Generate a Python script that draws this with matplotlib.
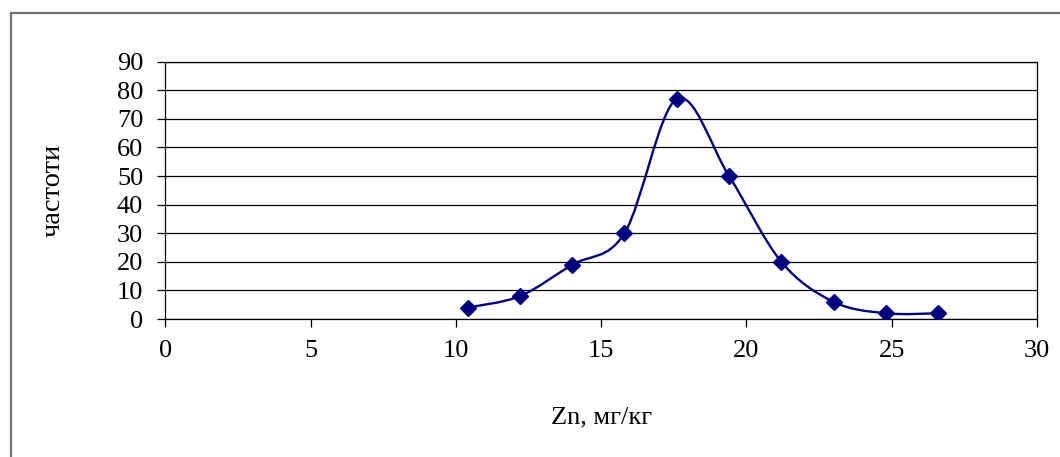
import numpy as np
import matplotlib
matplotlib.use("Agg")
import matplotlib.pyplot as plt
from matplotlib.path import Path
from matplotlib.patches import PathPatch

# data
zn = [10.4, 12.2, 14.0, 15.8, 17.6, 19.4, 21.2, 23.0, 24.8, 26.6]
freq = [4, 8, 19, 30, 77, 50, 20, 6, 2, 2]

x_ticks = [0, 5, 10, 15, 20, 25, 30]
y_ticks = [0, 10, 20, 30, 40, 50, 60, 70, 80, 90]

plt.rcParams['font.family'] = ['Liberation Serif', 'DejaVu Serif']


def smooth_path(xs, ys):
    # excel-like smoothed line: cubic bezier with catmull-rom control points
    pts = np.column_stack([xs, ys]).astype(float)
    n = len(pts)
    verts = [pts[0]]
    codes = [Path.MOVETO]
    for i in range(n - 1):
        p0 = pts[i - 1] if i > 0 else pts[i]
        p1 = pts[i]
        p2 = pts[i + 1]
        p3 = pts[i + 2] if i + 2 < n else pts[i + 1]
        c1 = p1 + (p2 - p0) / 6.0
        c2 = p2 - (p3 - p1) / 6.0
        verts += [c1, c2, p2]
        codes += [Path.CURVE4] * 3
    return Path(verts, codes)


fig = plt.figure(figsize=(10.6, 4.57), dpi=100)
ax = fig.add_axes([165.4 / 1060, 1 - 319 / 457, (1037 - 165.4) / 1060, (319 - 61.7) / 457])

# outer chart frame (only left and top show in the crop)
fig.add_artist(plt.Line2D([10.5 / 1060, 10.5 / 1060], [0, 1 - 13 / 457],
                          transform=fig.transFigure, color='#707070', lw=1.6))
fig.add_artist(plt.Line2D([10.5 / 1060, 1], [1 - 13 / 457, 1 - 13 / 457],
                          transform=fig.transFigure, color='#707070', lw=1.6))

ax.set_xlim(0, 30)
ax.set_ylim(0, 90)
ax.set_xticks(x_ticks)
ax.set_yticks(y_ticks)
ax.yaxis.grid(True, color='black', lw=0.9)
ax.set_axisbelow(True)
for s in ax.spines.values():
    s.set_color('black')
    s.set_linewidth(0.9)

ax.tick_params(axis='both', direction='out', length=6, width=0.9, labelsize=19, color='black')
ax.tick_params(axis='x', pad=9)
ax.tick_params(axis='y', pad=10)

patch = PathPatch(smooth_path(zn, freq), facecolor='none', edgecolor='#000080', lw=1.7, zorder=3)
ax.add_patch(patch)
ax.plot(zn, freq, linestyle='none', marker='D', markersize=8, color='#000080', zorder=4)

ax.set_xlabel('Zn, мг/кг', fontsize=19, labelpad=32)
ax.set_ylabel('частоти', fontsize=20.5, labelpad=0)
ax.yaxis.set_label_coords(-100 / 871.6, 0.5)

fig.savefig('out.png', dpi=100)
